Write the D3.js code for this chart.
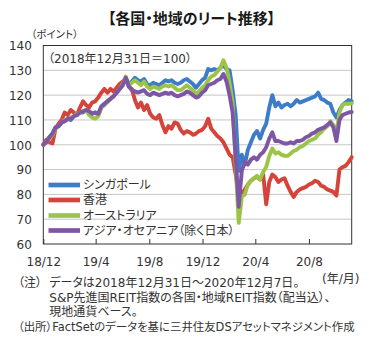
<!DOCTYPE html>
<html><head><meta charset="utf-8">
<script src="https://cdn.jsdelivr.net/npm/d3@7"></script>
<style>
body{margin:0;background:#fff;}
svg text{font-family:"DejaVu Sans","Noto Sans CJK JP",sans-serif;font-feature-settings:"palt";fill:#333;}
</style></head><body>
<svg id="c" width="369" height="339"></svg>
<script>
// ---- data (weekly, from 2018-12-31 to 2020-12-07) ----
const startDate = "2018-12-31";
const stepDays = 7;
const seriesNames = ["シンガポール","香港","オーストラリア","アジア・オセアニア（除く日本）"];
const seriesColors = ["#3d7cc9","#d5433a","#9cc446","#7d56a6"];
const singapore = [
 100,101.5,103,104.5,107,107.5,109,109.5,110.5,110,
 111.5,112,113,113,114,113.5,112.5,113,112,115,
 116,117.5,118.5,119.5,121,122.5,124,127,124.5,125.5,
 127,126,125.5,126.5,124.5,124,125,124.5,124,125,
 126,125.5,126,125,124.5,125,126,126.5,125.5,124.5,
 123,124.5,126,127,130.5,130,130.5,130,131,132,
 130.5,130,122,112,89.5,96,92,98,101,104,
 105.5,102.5,106,108.5,115,120,115.5,117,115,116,
 116.5,115.5,116.5,118,117,117.5,118,118.5,119,119.5,
 121,118.5,118,117,116.5,113,111,114,116,117,
 118,117.5];
const hongkong = [
 100,102,101,100.5,106.5,108.5,110,113,112,114,
 113,112,115,117.5,116,115,117,117.5,119,121,
 122.5,121,122.5,121.5,123,124.5,125.5,126.5,123.5,122.5,
 118,115,117,114,116,112.5,111,110.5,112,108,
 105,107.5,106.5,109,108.5,106,104.5,105.5,105,104,
 104.5,105.5,106,107.5,110.5,106.5,105,103.5,102.5,101,
 98.5,96,95,88,79,80,82,84,85.5,86.5,
 87,86,88,76,85,88,87,85,86,86.5,
 83.5,81,79,81,82,82.5,83,84,84.5,85.5,
 85,83.5,83,82,81.5,81,79.5,90,91,91.5,
 93,95];
const australia = [
 100,101,102.5,104,106.5,107.5,109,110,110,111,
 111.5,112.5,113,113.5,114,112,111,110.5,111.5,115,
 116.5,117,118.5,119.5,121,122.5,124.5,127.5,124,125,
 126,125,124,125.5,123.5,122.5,123.5,123,122.5,123.5,
 124,123.5,124,123,122,122,123,124,123,122,
 120.5,121.5,123,124,126,127.5,128,129.5,131,134,
 131,125,117,92,68.5,79,80,84,85.5,86.5,
 87.5,86,89,91,95.5,98.5,96.5,97,96,95.5,
 95.5,96.5,97.5,98,99,99.5,100.5,101.5,102,102.5,
 104,105,106.5,107.5,109.5,108,104.5,113,116,116.5,
 116.5,116.7];
const asiaExJapan = [
 100,101,103,104.5,107,107.5,109,109.5,110.5,110.5,
 111.5,112,113,113.5,114,113.5,112.5,113,112.5,115.5,
 116.5,117.5,118.5,119.5,121,122.5,124,127,123.5,122,
 121.5,121,121.5,122,120.5,120,121,120.5,120,120.5,
 121,120.5,121,120,119.5,120,120.5,121.5,121,120,
 119,119.5,121,122,124,124.5,125,126,126.5,128.5,
 125.5,120,113,95,75,89.5,93,92,94,95,
 94,96,97,99,102.5,105,101.5,101.5,101,100.5,
 100.5,101,100.5,101.5,101.5,102,103,103.5,104.5,105,
 106,106.5,107,108,109,107,101.5,110,112,112.5,
 113,113.2];
const endDate = "2020-12-07";
const xTickDates = ["2018-12-31","2019-04-30","2019-08-31","2019-12-31","2020-04-30","2020-08-31"];
const xTickLabels = ["18/12","19/4","19/8","19/12","20/4","20/8"];
const yTicks = [60,70,80,90,100,110,120,130,140];
const yDomain = [60,140];

// ---- layout ----
const svg = d3.select("#c");
const L = 43.3, R = 351.7, T = 45.5, B = 244;
const parse = d3.timeParse("%Y-%m-%d");
const d0 = parse(startDate);
const dates = singapore.map((_, i) => d3.timeDay.offset(d0, i * stepDays));
const x = d3.scaleTime().domain([d0, parse(endDate)]).range([L, R]);
const y = d3.scaleLinear().domain(yDomain).range([B, T]);

// title
svg.append("text").attr("x", 191.5).attr("y", 23.5).attr("text-anchor", "middle")
  .style("font-family", "'Noto Sans CJK JP'").style("font-size", "15px").style("font-weight", "bold").style("fill","#1a1a1a")
  .text("【各国・地域のリート推移】");
svg.append("text").attr("x", 31).attr("y", 38).style("font-size", "10.5px").text("（ポイント）");

// grid
svg.append("g").selectAll("line").data(yTicks.filter(v => v > yDomain[0] && v < yDomain[1])).join("line")
  .attr("x1", L).attr("x2", R).attr("y1", d => y(d)).attr("y2", d => y(d))
  .attr("stroke", "#c6c6c6").attr("stroke-width", 1);

// y axis labels
const yAxis = d3.axisLeft(y).tickValues(yTicks).tickSize(0).tickPadding(11.5);
const gy = svg.append("g").attr("transform", `translate(${L},0)`).call(yAxis);
gy.select(".domain").remove();
gy.selectAll("text").style("font-size", "12px").style("font-family","'DejaVu Sans'").attr("dy","0.36em");

// x axis
const xAxis = d3.axisBottom(x).tickValues(xTickDates.map(parse))
  .tickFormat((d, i) => xTickLabels[i]).tickSizeInner(-5).tickSizeOuter(0).tickPadding(13);
const gx = svg.append("g").attr("transform", `translate(0,${B})`).call(xAxis);
gx.select(".domain").remove();
gx.selectAll("line").attr("stroke", "#333");
gx.selectAll("text").style("font-size", "12px").style("font-family","'DejaVu Sans'");

// plot frame
svg.append("rect").attr("x", L).attr("y", T).attr("width", R - L).attr("height", B - T)
  .attr("fill", "none").attr("stroke", "#333").attr("stroke-width", 1);

// subtitle
svg.append("text").attr("x", 48).attr("y", 62.5).style("font-size", "12px").text("（2018年12月31日＝100）");

// lines
const allSeries = [singapore, hongkong, australia, asiaExJapan];
const line = d3.line().x((d, i) => x(dates[i])).y(d => y(d));
svg.append("g").selectAll("path").data(allSeries).join("path")
  .attr("d", d => line(d)).attr("fill", "none")
  .attr("stroke", (d, i) => seriesColors[i]).attr("stroke-width", 3.9)
  .attr("stroke-linejoin", "round").attr("stroke-linecap", "round");

// legend
const legY = [185, 200, 215.5, 230.5];
const lg = svg.append("g");
seriesNames.forEach((n, i) => {
  lg.append("line").attr("x1", 48.5).attr("x2", 80).attr("y1", legY[i]).attr("y2", legY[i])
    .attr("stroke", seriesColors[i]).attr("stroke-width", 4.7);
  lg.append("text").attr("x", 83).attr("y", legY[i]).attr("dy", "0.36em").style("font-size", "12px").text(n);
});

// unit
svg.append("text").attr("x", 322).attr("y", 283).style("font-size", "12px").text("(年/月)");

// notes
const notes = [
  {x: 18, y: 287, t: "（注）", w: 0},
  {x: 49.3, y: 287, t: "データは2018年12月31日～2020年12月7日。", w: 0},
  {x: 49.3, y: 301.5, t: "S&P先進国REIT指数の各国・地域REIT指数（配当込）、", w: 297},
  {x: 49.3, y: 316, t: "現地通貨ベース。", w: 0},
  {x: 18, y: 331, t: "（出所）FactSetのデータを基に三井住友DSアセットマネジメント作成", w: 337}
];
svg.append("g").selectAll("text").data(notes).join("text")
  .attr("x", d => d.x).attr("y", d => d.y).style("font-size", "12px")
  .text(d => d.t)
  .each(function(d){
    if (d.w) {
      const cw = this.getComputedTextLength();
      if (cw > d.w) d3.select(this).style("font-size", (12 * d.w / cw).toFixed(2) + "px");
    }
  });
</script>
</body></html>
